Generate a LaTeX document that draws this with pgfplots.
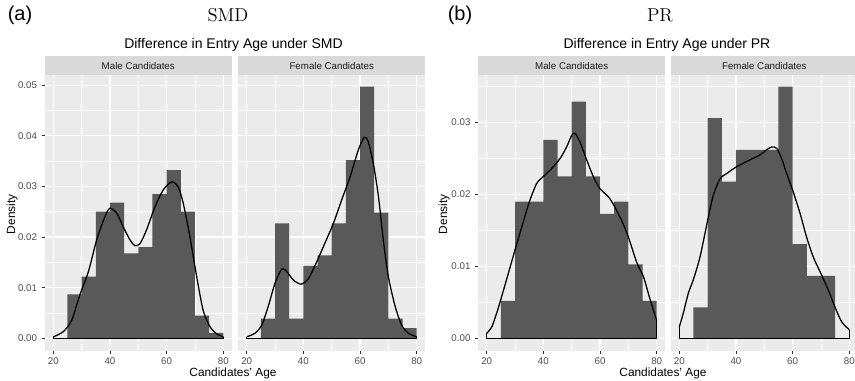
\documentclass[border=0pt]{standalone}
\usepackage{fontspec}
\setmainfont{Liberation Sans}
\newfontfamily\lmr{Latin Modern Roman}
\usepackage{pgfplots}
\pgfplotsset{compat=1.18}
\definecolor{panelbg}{HTML}{EBEBEB}
\definecolor{stripbg}{HTML}{D9D9D9}
\definecolor{histfill}{HTML}{595959}
\definecolor{ticklab}{HTML}{4D4D4D}
\definecolor{tickcol}{HTML}{333333}
\definecolor{striptext}{HTML}{1A1A1A}
\pgfplotsset{
 facet/.style={
   scale only axis, width=140.25pt, height=207pt, anchor=south west,
   xmin=17, xmax=83, xtick={20,40,60,80}, minor xtick={30,50,70},
   axis background/.style={fill=panelbg},
   axis line style={draw=none},
   grid=both,
   major grid style={white, line width=0.9pt},
   minor grid style={white, line width=0.45pt},
   tick align=outside, major tick length=2.3pt, minor tick length=0pt,
   tick style={tickcol, line width=0.45pt},
   xtick pos=bottom, ytick pos=left,
   ticklabel style={font=\fontsize{7.3}{8}\selectfont, text=ticklab},
   xticklabel style={yshift=1pt},
   /pgf/number format/assume math mode=true,
   yticklabel style={/pgf/number format/fixed, /pgf/number format/fixed zerofill, /pgf/number format/precision=2},
   scaled y ticks=false,
 },
 facetA/.style={facet, ymin=-0.0025, ymax=0.052, ytick={0,0.01,0.02,0.03,0.04,0.05}, minor ytick={0.005,0.015,0.025,0.035,0.045}},
 facetB/.style={facet, ymin=-0.00175, ymax=0.0366, ytick={0,0.01,0.02,0.03}, minor ytick={0.005,0.015,0.025,0.035}},
 noy/.style={yticklabels={}, ytick style={draw=none}},
 hist/.style={ybar interval, fill=histfill, draw=none},
 dens/.style={black, line width=0.95pt, smooth, tension=0.45},
 base/.style={black, line width=0.95pt},
}
\begin{document}
\begin{tikzpicture}
% ---------------- (a) SMD, male
\begin{axis}[facetA, at={(33.6pt,22.5pt)}]
\addplot[hist] coordinates {(25,0.0087)(30,0.0122)(35,0.0250)(40,0.0268)(45,0.0168)(50,0.0180)(55,0.0285)(60,0.0332)(65,0.0250)(70,0.0045)(75,0.0011)(80,0)};
\addplot[dens] coordinates {(20,0.0003)(23.5,0.0013)(26.5,0.0036)(29.4,0.0086)(32.4,0.0132)(35.3,0.0194)(38.2,0.0240)(40,0.0257)(42.4,0.0247)(44.7,0.0220)(47.1,0.0194)(48.8,0.0183)(50.6,0.0187)(52.9,0.0214)(55.9,0.0260)(58.8,0.0293)(61.8,0.0309)(64.1,0.0299)(65.9,0.0266)(68.2,0.0201)(70.6,0.0122)(72.9,0.0055)(75.3,0.0023)(77.6,0.0009)(80,0.0003)};
\addplot[base] coordinates {(20,0.0003)(20,0)(80,0)(80,0.0003)};
\end{axis}
% ---------------- (a) SMD, female
\begin{axis}[facetA, noy, at={(178.65pt,22.5pt)}]
\addplot[hist] coordinates {(25,0.0039)(30,0.0227)(35,0.0039)(40,0.0143)(45,0.0164)(50,0.0227)(55,0.0352)(60,0.0497)(65,0.0248)(70,0.0039)(75,0.0020)(80,0)};
\addplot[dens] coordinates {(20,0.0003)(22.9,0.0010)(25.3,0.0026)(27.6,0.0063)(30,0.0109)(32.4,0.0137)(34.1,0.0132)(36.5,0.0115)(39.2,0.0107)(41.8,0.0118)(44.7,0.0151)(47.6,0.0188)(50.6,0.0227)(53.5,0.0273)(56.5,0.0319)(59.4,0.0372)(61.5,0.0397)(62.9,0.0388)(64.7,0.0345)(66.5,0.0280)(68.2,0.0195)(70,0.0122)(72.4,0.0063)(74.7,0.0026)(77.1,0.0010)(80,0.0003)};
\addplot[base] coordinates {(20,0.0003)(20,0)(80,0)(80,0.0003)};
\end{axis}
% ---------------- (b) PR, male
\begin{axis}[facetB, at={(358.65pt,22.5pt)}]
\addplot[hist] coordinates {(25,0.0052)(30,0.0190)(35,0.0190)(40,0.0276)(45,0.0225)(50,0.0329)(55,0.0225)(60,0.0173)(65,0.0190)(70,0.0103)(75,0.0052)(80,0)};
\addplot[dens] coordinates {(20,0.0007)(21.8,0.0016)(23.5,0.0035)(24.9,0.0053)(27.6,0.0090)(30,0.0123)(32.4,0.0155)(34.9,0.0188)(37.6,0.0215)(40,0.0225)(42.9,0.0236)(45.9,0.0250)(48.2,0.0266)(50,0.0282)(51.2,0.0285)(52.9,0.0273)(54.9,0.0252)(57.6,0.0225)(60,0.0208)(62.9,0.0197)(64.9,0.0185)(67.6,0.0164)(70,0.0141)(72.9,0.0106)(75.3,0.0086)(77.6,0.0055)(80,0.0025)};
\addplot[base] coordinates {(20,0.0007)(20,0)(80,0)(80,0.0025)};
\end{axis}
% ---------------- (b) PR, female
\begin{axis}[facetB, noy, at={(503.1pt,22.5pt)}]
\addplot[hist] coordinates {(25,0.0043)(30,0.0306)(35,0.0218)(40,0.0262)(45,0.0262)(50,0.0262)(55,0.0350)(60,0.0131)(65,0.0087)(70,0.0087)(75,0)};
\addplot[dens] coordinates {(20,0.0016)(21.4,0.0035)(23.2,0.0063)(24.9,0.0081)(27.3,0.0113)(30,0.0164)(32,0.0199)(34.4,0.0222)(36.7,0.0229)(40,0.0238)(44.9,0.0248)(48.5,0.0255)(50.8,0.0262)(52.6,0.0266)(54.4,0.0264)(56.1,0.0250)(57.9,0.0229)(60,0.0206)(62.6,0.0174)(64.9,0.0141)(67.3,0.0113)(70,0.0090)(72.6,0.0067)(74.9,0.0044)(77.3,0.0023)(80,0.0012)};
\addplot[base] coordinates {(20,0.0016)(20,0)(80,0)(80,0.0012)};
\end{axis}
% ---------------- strips
\fill[stripbg] (33.6pt,229.5pt) rectangle ++(140.25pt,14.25pt);
\fill[stripbg] (178.65pt,229.5pt) rectangle ++(140.25pt,14.25pt);
\fill[stripbg] (358.65pt,229.5pt) rectangle ++(140.25pt,14.25pt);
\fill[stripbg] (503.1pt,229.5pt) rectangle ++(140.25pt,14.25pt);
\begin{scope}[every node/.style={font=\fontsize{7.3}{8}\selectfont, text=striptext}]
\node at (103.7pt,236.6pt) {Male Candidates};
\node at (248.8pt,236.6pt) {Female Candidates};
\node at (428.8pt,236.6pt) {Male Candidates};
\node at (573.2pt,236.6pt) {Female Candidates};
\end{scope}
% ---------------- titles and labels
\node[font=\fontsize{10.5}{12}\selectfont] at (175.1pt,252pt) {Difference in Entry Age under SMD};
\node[font=\fontsize{10.5}{12}\selectfont] at (500.25pt,252pt) {Difference in Entry Age under PR};
\node[font=\lmr\fontsize{14}{16}\selectfont] at (171pt,274.5pt) {SMD};
\node[font=\lmr\fontsize{14}{16}\selectfont] at (495pt,274.5pt) {PR};
\node[font=\fontsize{15}{17}\selectfont] at (15pt,274.5pt) {(a)};
\node[font=\fontsize{15}{17}\selectfont] at (345pt,274.5pt) {(b)};
\node[font=\fontsize{8.9}{10}\selectfont] at (174.75pt,6pt) {Candidates' Age};
\node[font=\fontsize{8.9}{10}\selectfont] at (497.25pt,6pt) {Candidates' Age};
\node[font=\fontsize{8.9}{10}\selectfont, rotate=90] at (9pt,125pt) {Density};
\node[font=\fontsize{8.9}{10}\selectfont, rotate=90] at (333pt,125pt) {Density};
\pgfresetboundingbox
\useasboundingbox (0,0) rectangle (641.25pt,285.75pt);
\end{tikzpicture}
\end{document}
